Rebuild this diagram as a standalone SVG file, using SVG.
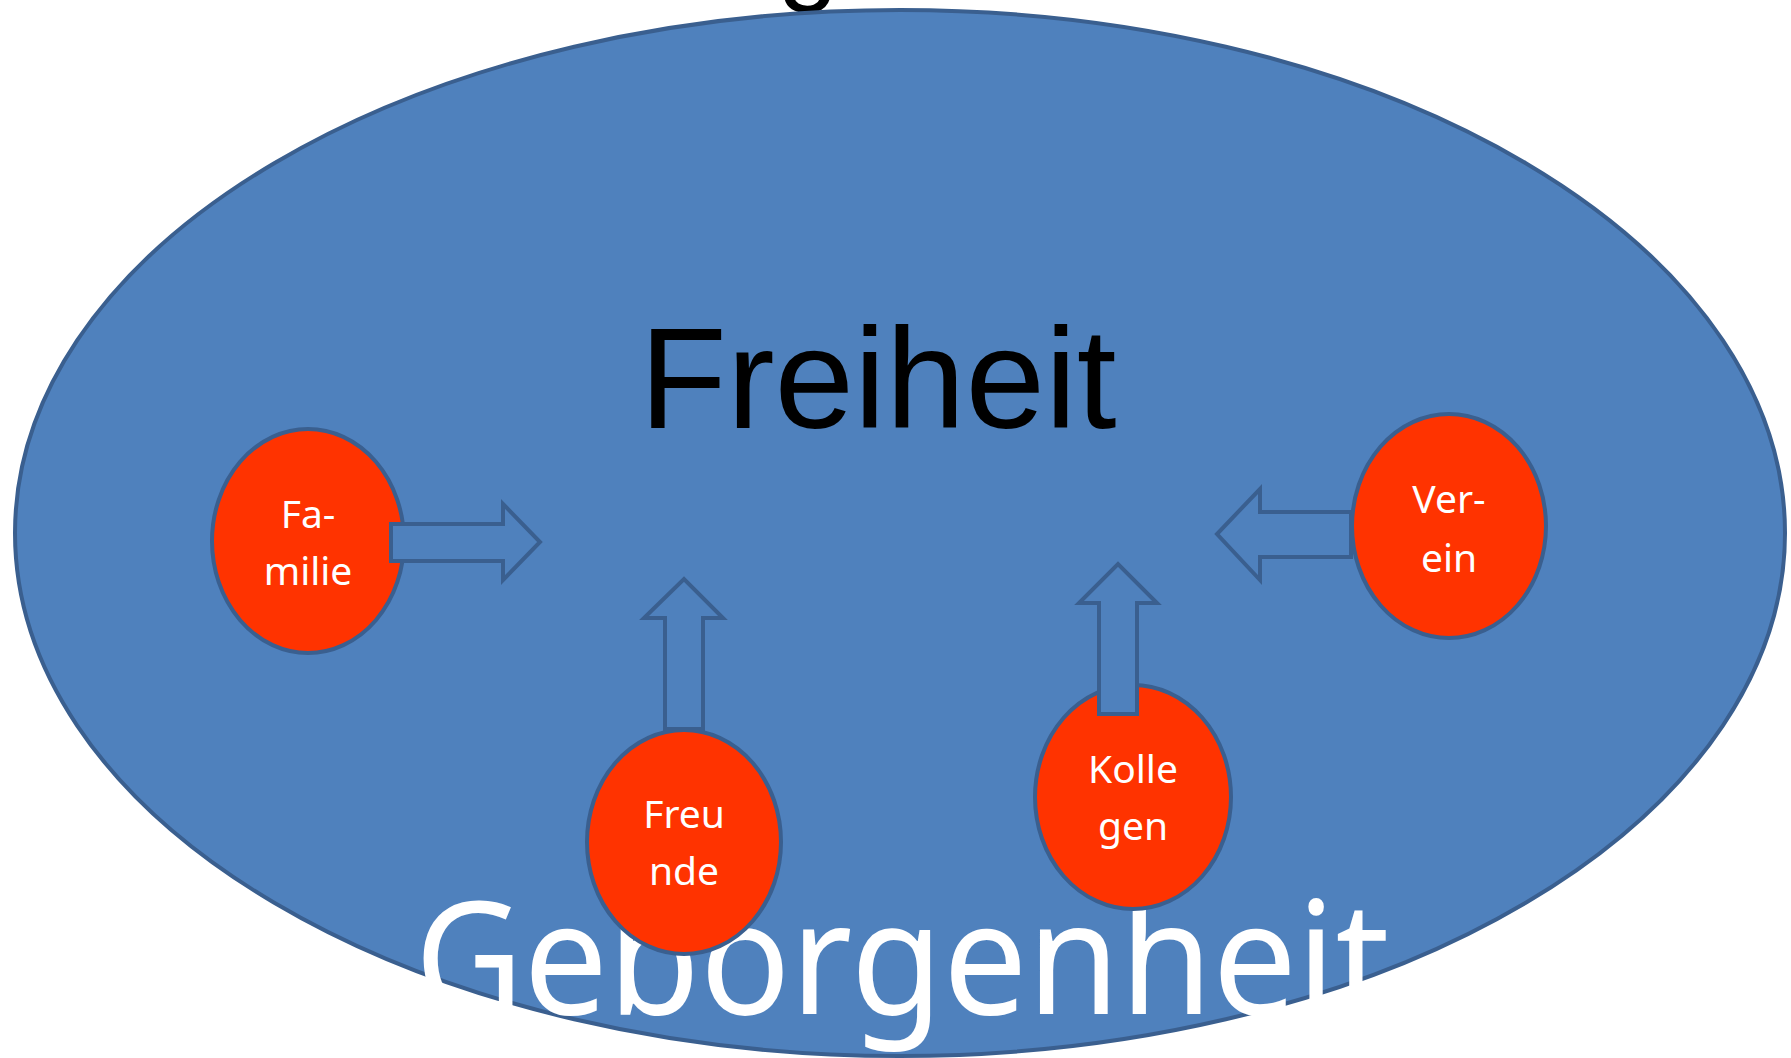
<svg xmlns="http://www.w3.org/2000/svg" width="1791" height="1058" viewBox="0 0 1791 1058">
<style>
.node{fill:#FF3300;stroke:#3A5F8F;stroke-width:4}
.arrow{fill:#4F81BD;stroke:#3A5F8F;stroke-width:4;stroke-linejoin:miter}
.lbl{font-family:"Noto Sans","Open Sans","DejaVu Sans",sans-serif;font-size:39px;fill:#FFFFFF;text-anchor:middle}
</style>
<rect width="1791" height="1058" fill="#FFFFFF"/>
<text x="808" y="-10" font-family="Liberation Sans, Arial, sans-serif" font-size="110" fill="#000000" text-anchor="middle">g</text>
<g id="background">
<ellipse cx="900" cy="533" rx="885" ry="523" fill="#4F81BD" stroke="#3A5F8F" stroke-width="4"/>
<text x="878" y="428" font-family="Liberation Sans, Arial, sans-serif" font-size="143" fill="#000000" text-anchor="middle">Freiheit</text>
<text x="902" y="1014" font-family="Noto Sans, Open Sans, sans-serif" font-size="158" fill="#FFFFFF" text-anchor="middle" textLength="975" lengthAdjust="spacingAndGlyphs">Geborgenheit</text>
</g>
<g id="node-familie">
<ellipse class="node" cx="308" cy="541" rx="96" ry="112"/>
<text class="lbl" x="308" y="528">Fa-</text>
<text class="lbl" x="308" y="585">milie</text>
</g>
<g id="node-freunde">
<ellipse class="node" cx="684" cy="842" rx="97" ry="112"/>
<text class="lbl" x="684" y="828">Freu</text>
<text class="lbl" x="684" y="885">nde</text>
</g>
<g id="node-kollegen">
<ellipse class="node" cx="1133" cy="797" rx="98" ry="112"/>
<text class="lbl" x="1133" y="783">Kolle</text>
<text class="lbl" x="1133" y="840">gen</text>
</g>
<g id="node-verein">
<ellipse class="node" cx="1449" cy="526" rx="97" ry="112"/>
<text class="lbl" x="1449" y="513">Ver-</text>
<text class="lbl" x="1449" y="572">ein</text>
</g>
<g id="connectors">
<polygon class="arrow" points="391,524 503,524 503,504 540,542 503,580 503,561 391,561"/>
<polygon class="arrow" points="665,729 665,618 644,618 684,579 723,618 703,618 703,729"/>
<polygon class="arrow" points="1099,714 1099,603 1079,603 1118,564 1157,603 1137,603 1137,714"/>
<polygon class="arrow" points="1351,512 1260,512 1260,489 1217,534 1260,580 1260,557 1351,557"/>
</g>
</svg>
